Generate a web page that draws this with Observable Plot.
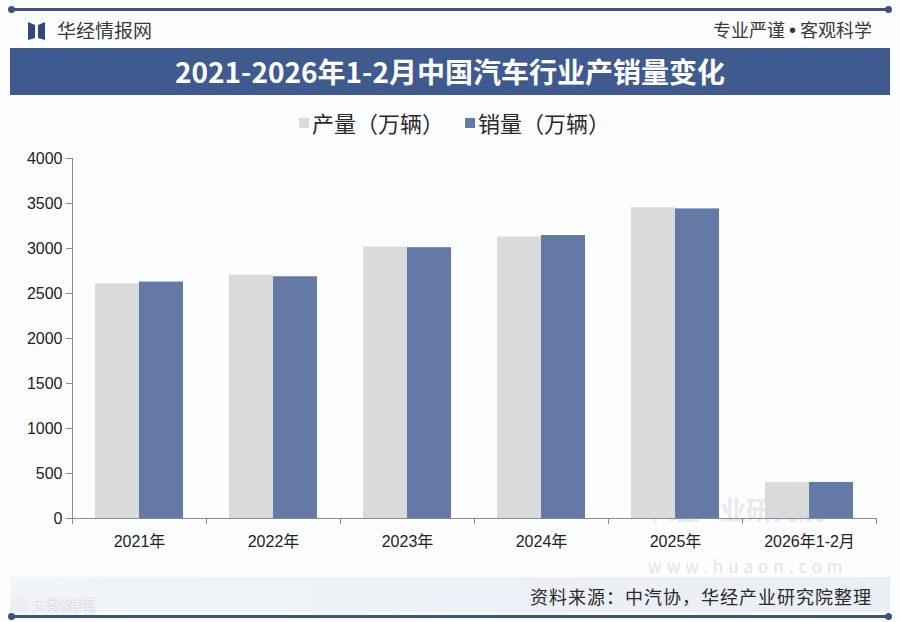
<!DOCTYPE html>
<html>
<head>
<meta charset="utf-8">
<script src="https://cdn.jsdelivr.net/npm/d3@7"></script>
<script src="https://cdn.jsdelivr.net/npm/@observablehq/plot@0.6"></script>
<style>
  html, body { margin: 0; padding: 0; background: #ffffff; }
  #page { position: relative; width: 900px; height: 622px; overflow: hidden; background: #fcfdfe;
          font-family: "Noto Sans CJK SC", "Liberation Sans", sans-serif; }
  .abs { position: absolute; white-space: nowrap; }
  #chart { position: absolute; left: 0; top: 140px; }
  #chart svg { font-family: "Liberation Sans", "Noto Sans CJK SC", sans-serif; }
</style>
</head>
<body>
<div id="page">
  <!-- top line -->
  <div class="abs" style="left:10px; top:8px; width:880px; height:3px; background:#3e527f;"></div>
  <div class="abs" style="left:8px; top:6px; width:7px; height:7px; border-radius:4px; background:#3e527f;"></div>
  <div class="abs" style="left:885px; top:6px; width:7px; height:7px; border-radius:4px; background:#3e527f;"></div>
  <!-- logo -->
  <svg class="abs" style="left:28px; top:21px;" width="20" height="20" viewBox="0 0 20 20">
    <path d="M0 1 L7 4 L7 17 L0 19 Z" fill="#2f4a7d"/>
    <path d="M10 4 L17 1 L17 19 L10 17 Z" fill="#2f4a7d"/>
  </svg>
  <div class="abs" style="left:57px; top:16px; font-size:19px; color:#3a3a3a;">华经情报网</div>
  <div class="abs" style="right:28px; top:16px; font-size:18px; color:#3a3a3a;">专业严谨 <span style="font-family:'Liberation Sans'; font-size:20px; color:#333;">•</span> 客观科学</div>
  <!-- title band -->
  <div class="abs" style="left:10px; top:48px; width:880px; height:47px; background:#3f5a8e;"></div>
  <div class="abs" style="left:10px; top:48px; width:880px; height:47px; line-height:47px; text-align:center; color:#ffffff; font-size:28px; font-weight:bold;">2021-2026年1-2月中国汽车行业产销量变化</div>
  <!-- legend -->
  <div class="abs" style="left:299px; top:118px; width:10px; height:10px; background:#d9dadc;"></div>
  <div class="abs" style="left:312px; top:106px; font-size:22px; color:#2a2a2a;">产量（万辆）</div>
  <div class="abs" style="left:465px; top:118px; width:10px; height:10px; background:#6479a5;"></div>
  <div class="abs" style="left:478px; top:106px; font-size:22px; color:#2a2a2a;">销量（万辆）</div>
  <!-- watermark -->
  <div class="abs" style="left:642px; top:492px; font-size:26px; line-height:34px; color:rgba(190,196,206,0.35); font-weight:bold;">华经产业研究院</div>
  <div class="abs" style="left:648px; top:553px; font-size:17px; letter-spacing:5px; color:rgba(190,196,206,0.45);">www.huaon.com</div>
  <!-- chart -->
  <div id="chart"></div>
  <!-- bottom band -->
  <div class="abs" style="left:10px; top:577px; width:880px; height:35px; background:linear-gradient(90deg, #f1f4f8, #eaeef5);"></div>
  <div class="abs" style="right:28px; top:583px; font-size:18px; letter-spacing:1px; color:#2a2a2a;">资料来源：中汽协，华经产业研究院整理</div>
  <div class="abs" style="left:12px; top:593px; font-size:16px; color:rgba(255,255,255,0.9); text-shadow:0 0 2px rgba(120,120,120,0.5);">ⓚ 大数跨境</div>
  <div class="abs" style="left:10px; top:615px; width:880px; height:3px; background:#3e527f;"></div>
  <div class="abs" style="left:8px; top:613px; width:7px; height:7px; border-radius:4px; background:#3e527f;"></div>
  <div class="abs" style="left:885px; top:613px; width:7px; height:7px; border-radius:4px; background:#3e527f;"></div>
</div>
<script>
const categories = ["2021年", "2022年", "2023年", "2024年", "2025年", "2026年1-2月"];
const production = [2608, 2702, 3016, 3128, 3453, 400];
const sales = [2627, 2686, 3009, 3144, 3440, 401];
const seriesNames = ["产量（万辆）", "销量（万辆）"];
const yTicks = [0, 500, 1000, 1500, 2000, 2500, 3000, 3500, 4000];

const prodRows = categories.map((c, i) => ({category: c, series: seriesNames[0], value: production[i]}));
const salesRows = categories.map((c, i) => ({category: c, series: seriesNames[1], value: sales[i]}));

const W = 900, ML = 72, MR = 24;
const step = (W - ML - MR) / categories.length;
const barW = 44;
const outer = (step - 2 * barW) / 2;

const chart = Plot.plot({
  width: W,
  height: 430,
  marginLeft: ML,
  marginRight: MR,
  marginTop: 18,
  marginBottom: 52,
  style: {background: "transparent", overflow: "visible"},
  x: {domain: categories, padding: 0, label: null},
  y: {domain: [0, 4000], label: null},
  marks: [
    Plot.barY(prodRows, {x: "category", y: "value", fill: "#d9dadc", insetLeft: outer, insetRight: outer + barW}),
    Plot.barY(salesRows, {x: "category", y: "value", fill: "#6479a5", insetLeft: outer + barW, insetRight: outer}),
    Plot.frame({anchor: "left", stroke: "#8c8c8c"}),
    Plot.ruleY([0], {stroke: "#8c8c8c"}),
    Plot.axisY({ticks: yTicks, tickSize: 6, tickPadding: 4, fontSize: 16, stroke: "#8c8c8c", fill: "#222", tickFormat: d3.format("d"), label: null}),
    Plot.axisX({tickSize: 6, tickFormat: () => "", dx: -step / 2, stroke: "#8c8c8c", label: null}),
    Plot.axisX([categories[categories.length - 1]], {tickSize: 6, tickFormat: () => "", dx: step / 2, stroke: "#8c8c8c", label: null}),
    Plot.axisX({tickSize: 0, tickPadding: 17, fontSize: 16, fill: "#222", label: null})
  ]
});
document.getElementById("chart").appendChild(chart);
</script>
</body>
</html>
